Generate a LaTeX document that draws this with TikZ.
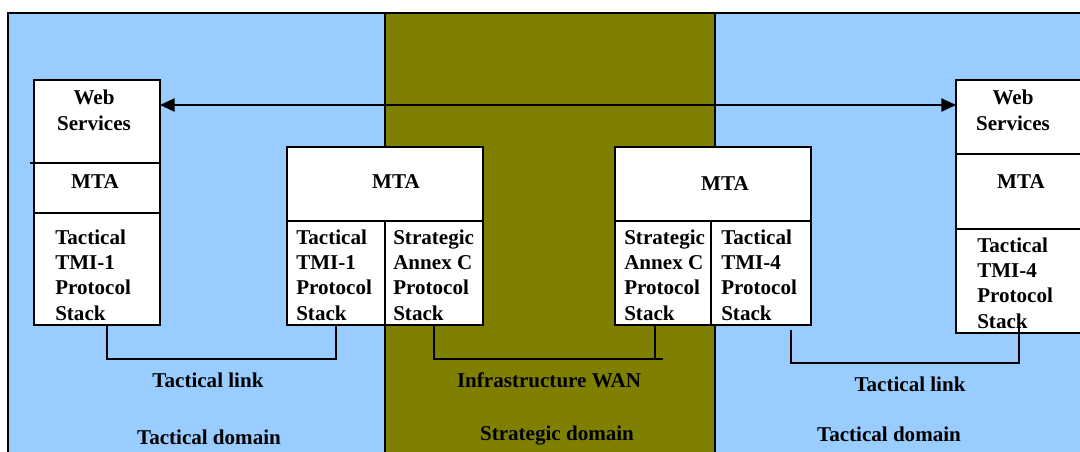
\documentclass[tikz,border=0pt]{standalone}
\usepackage{fontspec}
\setmainfont{Liberation Serif}
\usepackage{xcolor}
\usetikzlibrary{arrows.meta, positioning}
\definecolor{tacblue}{RGB}{153,204,255}
\definecolor{stratolive}{RGB}{128,128,0}
\newcommand{\unitpx}{0.75pt}

\begin{document}
\begin{tikzpicture}[x=0.75pt,y=-0.75pt,>={Triangle[length=11pt,width=10pt]}]
 \tikzstyle{cell}=[rectangle,draw=black,fill=white,line width=1pt,
   inner sep=0pt,outer sep=0pt,anchor=north west,minimum width=126*\unitpx]
 \tikzstyle{lbl}=[inner sep=0pt,anchor=base,
   font=\bfseries\fontsize{15.8}{18.9}\selectfont]
 \tikzstyle{stacktext}=[lbl,anchor=base west,align=left]
 \tikzstyle{link}=[draw=black,line width=1pt]
 \useasboundingbox (0,0) rectangle (1080,451);
 \clip (0,0) rectangle (1080,451);
 % domains
 \filldraw[fill=tacblue,draw=black,line width=1.2pt] (8,13) rectangle (385,470);
 \filldraw[fill=stratolive,draw=black,line width=1.2pt] (385,13) rectangle (715,470);
 \filldraw[fill=tacblue,draw=black,line width=1.2pt] (715,13) rectangle (1100,470);
 % left stack
 \node (lweb) [cell,minimum height=83*\unitpx] at (34,80) {};
 \node (lmta) [cell,minimum height=50*\unitpx,below=0pt of lweb] {};
 \node (ltmi) [cell,minimum height=112*\unitpx,below=0pt of lmta] {};
 \draw[line width=1pt] (lweb.south west) -- ++(-4,0);
 % middle left gateway
 \node (mlmta) [cell,minimum width=196*\unitpx,minimum height=74*\unitpx] at (287,147) {};
 \node (mltmi) [cell,minimum width=98*\unitpx,minimum height=104*\unitpx,
   below right=0pt and 0pt of mlmta.south west] {};
 \node (mlann) [cell,minimum width=98*\unitpx,minimum height=104*\unitpx,
   right=0pt of mltmi] {};
 % middle right gateway
 \node (mrmta) [cell,minimum width=196*\unitpx,minimum height=74*\unitpx] at (615,147) {};
 \node (mrann) [cell,minimum width=96*\unitpx,minimum height=104*\unitpx,
   below right=0pt and 0pt of mrmta.south west] {};
 \node (mrtmi) [cell,minimum width=100*\unitpx,minimum height=104*\unitpx,
   right=0pt of mrann] {};
 % right stack
 \node (rweb) [cell,minimum height=74*\unitpx] at (956,80) {};
 \node (rmta) [cell,minimum height=75*\unitpx,below=0pt of rweb] {};
 \node (rtmi) [cell,minimum height=104*\unitpx,below=0pt of rmta] {};
 % texts (base = last line)
 \node (twebL) [lbl,align=center] at (94,130) {Web\\Services};
 \node (tmtaL) [lbl] at (95,188) {MTA};
 \node (ttmiL) [stacktext] at (55,320) {Tactical\\TMI-1\\Protocol\\Stack};
 \node (tmtaML) [lbl] at (396,188) {MTA};
 \node (ttmiML) [stacktext] at (296,320) {Tactical\\TMI-1\\Protocol\\Stack};
 \node (tannML) [stacktext] at (393,320) {Strategic\\Annex C\\Protocol\\Stack};
 \node (tmtaMR) [lbl] at (725,190) {MTA};
 \node (tannMR) [stacktext] at (624,320) {Strategic\\Annex C\\Protocol\\Stack};
 \node (ttmiMR) [stacktext] at (721,320) {Tactical\\TMI-4\\Protocol\\Stack};
 \node (twebR) [lbl,align=center] at (1013,130) {Web\\Services};
 \node (tmtaR) [lbl] at (1021,188) {MTA};
 \node (ttmiR) [stacktext] at (977,328) {Tactical\\TMI-4\\Protocol\\Stack};
 % links
 \draw[<->,line width=1pt] ([yshift=16.5*\unitpx]lweb.east)
   -- ([yshift=16.5*\unitpx]lweb.east -| rweb.west);
 \draw[link] ([xshift=10*\unitpx]ltmi.south) -- ++(0,34) -| (mltmi.south);
 \draw[link] (mlann.south) -- ++(0,34) -- ++(229,0);
 \draw[link] ([xshift=-8*\unitpx]mrann.south) -- ++(0,34);
 \draw[link] ([xshift=30*\unitpx,yshift=-5*\unitpx]mrtmi.south)
   |- ([yshift=-30*\unitpx]rtmi.south) -- ([yshift=5*\unitpx]rtmi.south);
 \node (linkL) [lbl] at (208,387) {Tactical link};
 \node (wan) [lbl] at (549,387) {Infrastructure WAN};
 \node (linkR) [lbl] at (910,391) {Tactical link};
 \node (domL) [lbl] at (209,444) {Tactical domain};
 \node (domS) [lbl] at (557,440) {Strategic domain};
 \node (domR) [lbl] at (889,441) {Tactical domain};
\end{tikzpicture}
\end{document}
